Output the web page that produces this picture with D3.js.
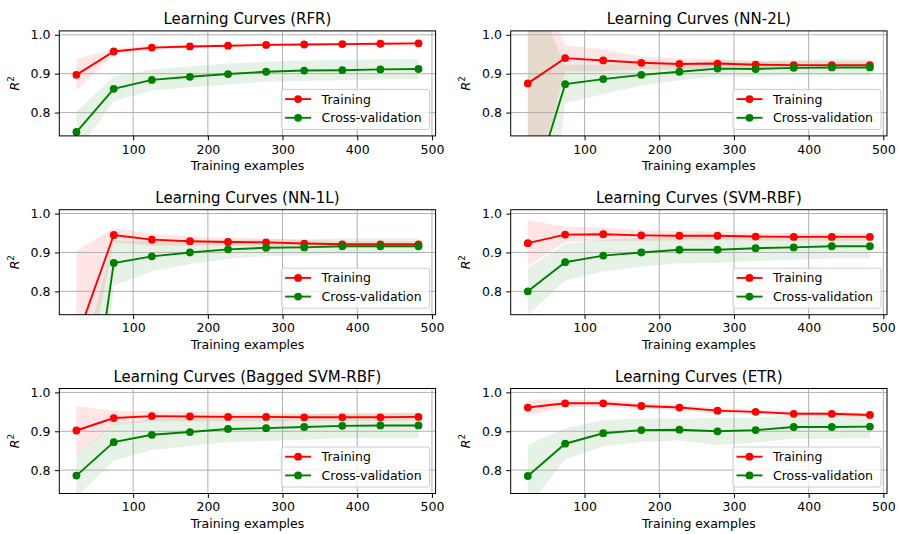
<!DOCTYPE html>
<html>
<head>
<meta charset="utf-8">
<script src="https://cdn.jsdelivr.net/npm/d3@7"></script>
<style>
  html, body { margin: 0; padding: 0; background: #ffffff; }
  svg { display: block; font-family: "DejaVu Sans", sans-serif; }
</style>
</head>
<body>
<svg id="chart" width="899" height="534"></svg>
<script>
// Number of training examples at each point of the learning curves
const trainSizes = [24, 74, 125, 176, 227, 278, 329, 380, 431, 482];

// Model names, in panel order (row by row)
const models = ["RFR", "NN-2L", "NN-1L", "SVM-RBF", "Bagged SVM-RBF", "ETR"];

// Mean and standard deviation of R^2 on the training folds and on cross-validation
const rfrTrainMean = [0.897, 0.957, 0.967, 0.970, 0.972, 0.974, 0.975, 0.976, 0.977, 0.978];
const rfrTrainStd  = [0.040, 0.008, 0.006, 0.004, 0.003, 0.003, 0.003, 0.003, 0.003, 0.003];
const rfrTestMean  = [0.750, 0.861, 0.884, 0.892, 0.899, 0.905, 0.908, 0.909, 0.911, 0.912];
const rfrTestStd   = [0.053, 0.032, 0.027, 0.027, 0.027, 0.026, 0.026, 0.026, 0.026, 0.026];

const nn2TrainMean = [0.875, 0.940, 0.934, 0.928, 0.925, 0.926, 0.923, 0.922, 0.922, 0.922];
const nn2TrainStd  = [0.340, 0.034, 0.028, 0.017, 0.014, 0.012, 0.010, 0.010, 0.010, 0.010];
const nn2TestMean  = [0.560, 0.873, 0.886, 0.897, 0.905, 0.913, 0.912, 0.915, 0.916, 0.916];
const nn2TestStd   = [0.580, 0.049, 0.038, 0.028, 0.022, 0.020, 0.020, 0.020, 0.021, 0.021];

const nn1TrainMean = [0.676, 0.945, 0.933, 0.929, 0.927, 0.926, 0.923, 0.921, 0.921, 0.921];
const nn1TrainStd  = [0.228, 0.018, 0.015, 0.012, 0.010, 0.010, 0.009, 0.008, 0.008, 0.008];
const nn1TestMean  = [0.207, 0.873, 0.890, 0.900, 0.908, 0.912, 0.913, 0.916, 0.916, 0.916];
const nn1TestStd   = [0.370, 0.058, 0.038, 0.030, 0.024, 0.022, 0.021, 0.020, 0.020, 0.020];

const svmTrainMean = [0.924, 0.946, 0.947, 0.944, 0.943, 0.943, 0.941, 0.940, 0.940, 0.940];
const svmTrainStd  = [0.059, 0.020, 0.017, 0.014, 0.012, 0.011, 0.010, 0.010, 0.010, 0.010];
const svmTestMean  = [0.800, 0.875, 0.892, 0.900, 0.907, 0.907, 0.911, 0.913, 0.916, 0.916];
const svmTestStd   = [0.060, 0.047, 0.041, 0.037, 0.035, 0.034, 0.033, 0.032, 0.031, 0.031];

const bagTrainMean = [0.902, 0.934, 0.939, 0.938, 0.937, 0.937, 0.936, 0.936, 0.936, 0.937];
const bagTrainStd  = [0.063, 0.018, 0.013, 0.012, 0.011, 0.011, 0.010, 0.010, 0.010, 0.010];
const bagTestMean  = [0.786, 0.872, 0.891, 0.898, 0.906, 0.908, 0.911, 0.914, 0.915, 0.915];
const bagTestStd   = [0.055, 0.047, 0.039, 0.036, 0.034, 0.033, 0.033, 0.032, 0.032, 0.032];

const etrTrainMean = [0.961, 0.972, 0.972, 0.965, 0.961, 0.953, 0.950, 0.945, 0.945, 0.942];
const etrTrainStd  = [0.020, 0.010, 0.009, 0.008, 0.007, 0.007, 0.006, 0.006, 0.006, 0.006];
const etrTestMean  = [0.785, 0.868, 0.895, 0.903, 0.904, 0.900, 0.903, 0.911, 0.911, 0.912];
const etrTestStd   = [0.080, 0.040, 0.034, 0.030, 0.028, 0.035, 0.032, 0.030, 0.030, 0.030];

// Axis ticks and limits
const xTicks = [100, 200, 300, 400, 500];
const yTicks = [0.8, 0.9, 1.0];
const yLimits = [0.74, 1.01];
const seriesLabels = ["Training", "Cross-validation"];

const curves = [
  [rfrTrainMean, rfrTrainStd, rfrTestMean, rfrTestStd],
  [nn2TrainMean, nn2TrainStd, nn2TestMean, nn2TestStd],
  [nn1TrainMean, nn1TrainStd, nn1TestMean, nn1TestStd],
  [svmTrainMean, svmTrainStd, svmTestMean, svmTestStd],
  [bagTrainMean, bagTrainStd, bagTestMean, bagTestStd],
  [etrTrainMean, etrTrainStd, etrTestMean, etrTestStd]
];

// Layout of the 3 x 2 grid of axes
const colLeft = [59.3, 510.7];
const rowTop = [30.9, 209.7, 388.5];
const axW = 376.3, axH = 105;
const RED = "#ff0000", GREEN = "#008000";
const tickFont = 12.5, titleFont = 15;

const svg = d3.select("#chart");

const span = d3.max(trainSizes) - d3.min(trainSizes);
const xDomain = [d3.min(trainSizes) - 0.05 * span, d3.max(trainSizes) + 0.05 * span];

models.forEach((name, i) => {
  const col = i % 2, row = Math.floor(i / 2);
  const left = colLeft[col], top = rowTop[row];
  const [trM, trS, teM, teS] = curves[i];

  const x = d3.scaleLinear().domain(xDomain).range([0, axW]);
  const y = d3.scaleLinear().domain(yLimits).range([axH, 0]);

  const g = svg.append("g").attr("transform", `translate(${left},${top})`);
  const clipId = "clip" + i;
  g.append("clipPath").attr("id", clipId)
    .append("rect").attr("width", axW).attr("height", axH);

  const plot = g.append("g").attr("clip-path", `url(#${clipId})`);

  const train = trainSizes.map((n, k) => ({ n, m: trM[k], s: trS[k] }));
  const test = trainSizes.map((n, k) => ({ n, m: teM[k], s: teS[k] }));

  const band = d3.area()
    .x(d => x(d.n))
    .y0(d => y(d.m - d.s))
    .y1(d => y(d.m + d.s));

  plot.append("path").datum(train).attr("d", band)
    .attr("fill", RED).attr("fill-opacity", 0.1);
  plot.append("path").datum(test).attr("d", band)
    .attr("fill", GREEN).attr("fill-opacity", 0.1);

  // grid
  plot.selectAll(".gx").data(xTicks).join("line")
    .attr("x1", d => x(d)).attr("x2", d => x(d))
    .attr("y1", 0).attr("y2", axH)
    .attr("stroke", "#b0b0b0").attr("stroke-width", 1);
  plot.selectAll(".gy").data(yTicks).join("line")
    .attr("y1", d => y(d)).attr("y2", d => y(d))
    .attr("x1", 0).attr("x2", axW)
    .attr("stroke", "#b0b0b0").attr("stroke-width", 1);

  const line = d3.line().x(d => x(d.n)).y(d => y(d.m));
  [[train, RED], [test, GREEN]].forEach(([data, color]) => {
    plot.append("path").datum(data).attr("d", line)
      .attr("fill", "none").attr("stroke", color).attr("stroke-width", 1.9);
    plot.append("g").selectAll("circle").data(data).join("circle")
      .attr("cx", d => x(d.n)).attr("cy", d => y(d.m)).attr("r", 3.9)
      .attr("fill", color);
  });

  // axes
  const xAxis = g.append("g").attr("transform", `translate(0,${axH})`)
    .call(d3.axisBottom(x).tickValues(xTicks).tickSize(4.4).tickPadding(4.4));
  const yAxis = g.append("g")
    .call(d3.axisLeft(y).tickValues(yTicks).tickFormat(d3.format(".1f")).tickSize(4.4).tickPadding(4.4));
  [xAxis, yAxis].forEach(a => {
    a.select(".domain").remove();
    a.selectAll("line").attr("stroke", "#000").attr("stroke-width", 1);
    a.selectAll("text").attr("font-size", tickFont).attr("fill", "#000")
      .attr("font-family", "DejaVu Sans");
  });

  // spines
  g.append("rect").attr("width", axW).attr("height", axH)
    .attr("fill", "none").attr("stroke", "#000").attr("stroke-width", 1);

  // title
  g.append("text").attr("x", axW / 2).attr("y", -7)
    .attr("text-anchor", "middle").attr("font-size", titleFont).attr("fill", "#000")
    .text(`Learning Curves (${name})`);

  // axis labels
  g.append("text").attr("x", axW / 2).attr("y", axH + 34.3)
    .attr("text-anchor", "middle").attr("font-size", tickFont).attr("fill", "#000")
    .text("Training examples");
  const yl = g.append("text")
    .attr("transform", `translate(-40.7,${axH / 2}) rotate(-90)`)
    .attr("text-anchor", "middle").attr("font-size", tickFont).attr("fill", "#000");
  yl.append("tspan").attr("font-style", "italic").text("R");
  yl.append("tspan").attr("font-size", tickFont * 0.7).attr("dy", -5).text("2");

  // legend
  const lgW = 148, lgH = 40;
  const lg = g.append("g").attr("transform", `translate(${axW - 6 - lgW},${axH - 6.5 - lgH})`);
  lg.append("rect").attr("width", lgW).attr("height", lgH).attr("rx", 2.5)
    .attr("fill", "#fff").attr("fill-opacity", 0.8)
    .attr("stroke", "#cccccc").attr("stroke-width", 1);
  [RED, GREEN].forEach((color, k) => {
    const cy = 9.7 + k * 18.7;
    lg.append("line").attr("x1", 3.5).attr("x2", 29.5).attr("y1", cy).attr("y2", cy)
      .attr("stroke", color).attr("stroke-width", 1.9);
    lg.append("circle").attr("cx", 16.5).attr("cy", cy).attr("r", 3.9).attr("fill", color);
    lg.append("text").attr("x", 40).attr("y", cy + 4.6)
      .attr("font-size", tickFont).attr("fill", "#000")
      .text(seriesLabels[k]);
  });
});
</script>
</body>
</html>
